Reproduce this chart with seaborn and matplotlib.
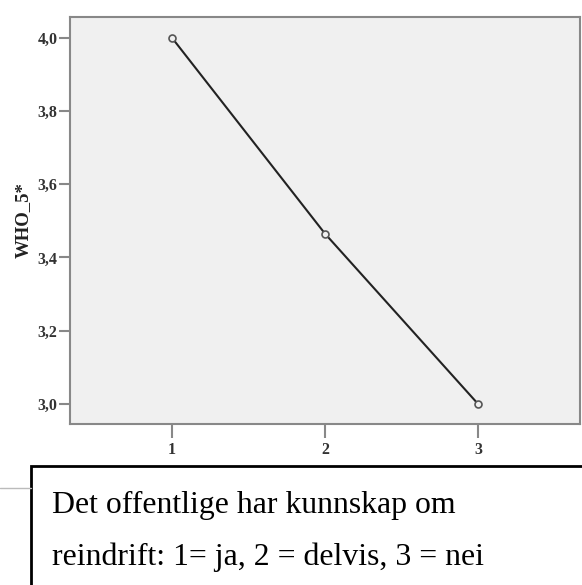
import matplotlib
matplotlib.use("Agg")
import matplotlib.pyplot as plt
from matplotlib.patches import Rectangle
from matplotlib.lines import Line2D
import seaborn as sns
import pandas as pd

# data
groups = [1, 2, 3]
who5_mean = [4.0, 3.465, 3.0]
y_ticks = [3.0, 3.2, 3.4, 3.6, 3.8, 4.0]
y_tick_labels = ["3,0", "3,2", "3,4", "3,6", "3,8", "4,0"]
caption_lines = ["Det offentlige har kunnskap om",
                 "reindrift: 1= ja, 2 = delvis, 3 = nei"]

df = pd.DataFrame({"group": groups, "WHO_5*": who5_mean})

sns.set_style("white")
plt.rcParams["font.family"] = ["Liberation Serif", "DejaVu Serif"]

fig = plt.figure(figsize=(5.82, 5.85), dpi=100)
ax = fig.add_axes([70 / 582, 1 - 424 / 585, 510 / 582, 407 / 585])
ax.set_facecolor("#f0f0f0")

sns.lineplot(data=df, x="group", y="WHO_5*", ax=ax, color="#222222",
             linewidth=1.5, marker="o", markersize=5,
             markerfacecolor="#f0f0f0", markeredgecolor="#555555",
             markeredgewidth=1.2)

ax.set_xlim(0.333, 3.667)
ax.set_ylim(2.945, 4.057)
ax.set_xticks(groups)
ax.set_xticklabels([str(g) for g in groups])
ax.set_yticks(y_ticks)
ax.set_yticklabels(y_tick_labels)
ax.set_xlabel("")
ax.set_ylabel("WHO_5*", fontsize=13.5, fontweight="bold", labelpad=4,
              color="#222222")

for side in ["left", "bottom", "top", "right"]:
    ax.spines[side].set_color("#888888")
    ax.spines[side].set_linewidth(1.5)
    ax.spines[side].set_visible(True)

ax.tick_params(axis="x", bottom=True, direction="out", length=10, width=1.5,
               color="#888888", labelsize=11.5, pad=3)
ax.tick_params(axis="y", left=True, direction="out", length=8, width=1.5,
               color="#888888", labelsize=11.5, pad=1)
for lab in ax.get_xticklabels() + ax.get_yticklabels():
    lab.set_fontweight("bold")
    lab.set_color("#333333")

# caption box below the chart
fig.add_artist(Line2D([0, 31 / 582], [1 - 488 / 585, 1 - 488 / 585],
                      transform=fig.transFigure, color="#bbbbbb", linewidth=1))
fig.add_artist(Rectangle((31 / 582, -0.05), 1.0, 1 - 466 / 585 + 0.05,
                         transform=fig.transFigure, facecolor="white",
                         edgecolor="black", linewidth=2))
fig.text(52 / 582, 1 - 513 / 585, caption_lines[0], fontsize=22.9,
         va="baseline", ha="left", color="black")
fig.text(52 / 582, 1 - 565 / 585, caption_lines[1], fontsize=22.9,
         va="baseline", ha="left", color="black")

fig.savefig("out.png", dpi=100)
